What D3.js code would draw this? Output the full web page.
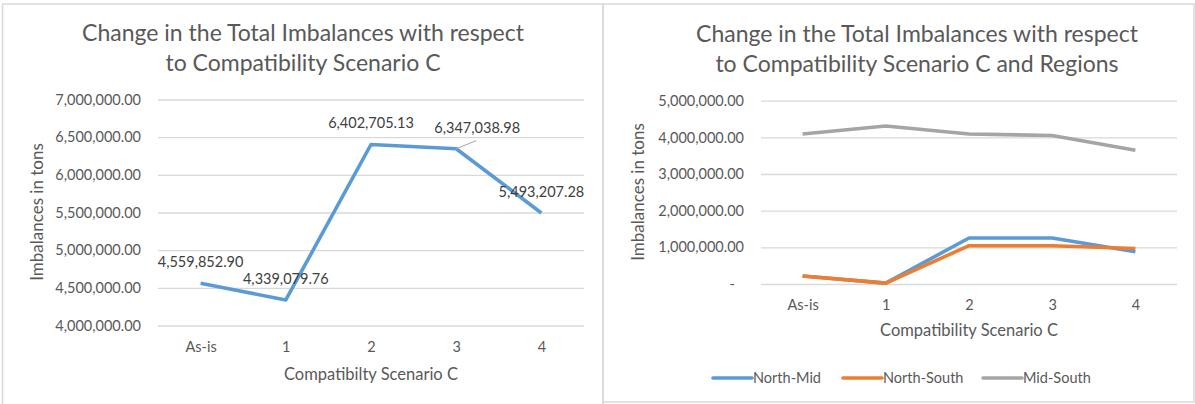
<!DOCTYPE html>
<html>
<head>
<meta charset="utf-8">
<script src="https://cdnjs.cloudflare.com/ajax/libs/d3/7.8.5/d3.min.js"></script>
<style>
  body { margin: 0; background: #fff; }
  svg { display: block; font-family: Lato, "Open Sans", sans-serif; }
  .tick text { fill: #595959; }
</style>
</head>
<body>
<svg></svg>
<script>
  // data
  let scenarios = ["As-is", "1", "2", "3", "4"];
  let totalImbalance = [4559852.90, 4339079.76, 6402705.13, 6347038.98, 5493207.28];
  let leftTicks = [4000000, 4500000, 5000000, 5500000, 6000000, 6500000, 7000000];

  let regionNames = ["North-Mid", "North-South", "Mid-South"];
  let northMid = [218000, 25000, 1255000, 1255000, 880000];
  let northSouth = [218000, 25000, 1045000, 1045000, 970000];
  let midSouth = [4090000, 4310000, 4090000, 4050000, 3650000];
  let rightTicks = [0, 1000000, 2000000, 3000000, 4000000, 5000000];

  let colors = {blue: "#5B9BD5", orange: "#ED7D31", gray: "#A5A5A5"};
  let textColor = "#595959";
  let fmt = d3.format(",.2f");

  let svg = d3.select("svg").attr("width", 1195).attr("height", 404);

  // panel frames
  svg.append("rect").attr("x", 2.5).attr("y", 4).attr("width", 600.5).attr("height", 420)
    .attr("fill", "none").attr("stroke", "#d9d9d9").attr("stroke-width", 1.5);
  svg.append("rect").attr("x", 603).attr("y", 4).attr("width", 591).attr("height", 398)
    .attr("fill", "none").attr("stroke", "#d9d9d9").attr("stroke-width", 1.5);

  function drawPanel(p) {
    let g = svg.append("g");
    let x = d3.scalePoint().domain(scenarios).range([p.left, p.right]).padding(0.5);
    let y = d3.scaleLinear().domain(d3.extent(p.ticks)).range([p.bottom, p.top]);

    // title
    p.title.forEach(function(t, i) {
      g.append("text").attr("x", p.titleX).attr("y", p.titleY + i * 29.5)
        .attr("text-anchor", "middle").attr("font-size", 23).attr("fill", textColor).text(t);
    });

    // y axis with gridlines
    let yAxis = g.append("g").attr("transform", "translate(" + p.left + ",0)")
      .call(d3.axisLeft(y).tickValues(p.ticks).tickSize(-(p.right - p.left)).tickPadding(17)
        .tickFormat(d => d === 0 ? "-" : fmt(d)));
    yAxis.select(".domain").remove();
    yAxis.selectAll(".tick line").attr("stroke", "#d9d9d9").attr("stroke-width", 1.3);
    yAxis.selectAll(".tick text").attr("font-size", 14.5).attr("font-family", "Lato")
      .filter(d => d === 0).attr("dx", -9);

    // x axis labels
    let xAxis = g.append("g").attr("transform", "translate(0," + p.bottom + ")")
      .call(d3.axisBottom(x).tickSize(0).tickPadding(p.xPad));
    xAxis.select(".domain").remove();
    xAxis.selectAll(".tick text").attr("font-size", 14.5).attr("font-family", "Lato");

    g.append("text").attr("x", (p.left + p.right) / 2).attr("y", p.xTitleY)
      .attr("text-anchor", "middle").attr("font-size", 16.5).attr("fill", textColor).text(p.xTitle);
    g.append("text").attr("transform", "translate(" + p.yTitleX + "," + p.yTitleY + ") rotate(-90)")
      .attr("text-anchor", "middle").attr("font-size", 17).attr("fill", textColor).text("Imbalances in tons");

    let line = d3.line().x((d, i) => x(scenarios[i])).y(d => y(d));
    p.series.forEach(function(s) {
      g.append("path").datum(s.values).attr("d", line).attr("fill", "none")
        .attr("stroke", s.color).attr("stroke-width", 3.6).attr("stroke-linejoin", "round");
    });
    return {g: g, x: x, y: y};
  }

  let left = drawPanel({
    left: 158, right: 584, top: 99.5, bottom: 325.5, ticks: leftTicks,
    title: ["Change in the Total Imbalances with respect", "to Compatibility Scenario C"],
    titleX: 303, titleY: 41, xPad: 16, xTitle: "Compatibilty Scenario C", xTitleY: 380,
    yTitleX: 43, yTitleY: 212,
    series: [{values: totalImbalance, color: colors.blue}]
  });

  // data labels on the left chart
  totalImbalance.forEach(function(v, i) {
    let px = left.x(scenarios[i]), py = left.y(v);
    let shift = i === 3 ? 21 : 0;
    if (shift) {
      left.g.append("line").attr("x1", px).attr("y1", py).attr("x2", px + 20).attr("y2", py - 8)
        .attr("stroke", "#a6a6a6").attr("stroke-width", 1);
    }
    left.g.append("text").attr("x", px + shift).attr("y", py - 16)
      .attr("text-anchor", "middle").attr("font-size", 14.5).attr("fill", "#404040").text(fmt(v));
  });

  let right = drawPanel({
    left: 761, right: 1177, top: 100.7, bottom: 284, ticks: rightTicks,
    title: ["Change in the Total Imbalances with respect", "to Compatibility Scenario C and Regions"],
    titleX: 917, titleY: 42, xPad: 16, xTitle: "Compatibility Scenario C", xTitleY: 336,
    yTitleX: 644, yTitleY: 192,
    series: [
      {values: northMid, color: colors.blue},
      {values: northSouth, color: colors.orange},
      {values: midSouth, color: colors.gray}
    ]
  });

  // legend
  let legendX = [713, 843, 983];
  let legendColors = [colors.blue, colors.orange, colors.gray];
  regionNames.forEach(function(name, i) {
    let lg = svg.append("g").attr("transform", "translate(" + legendX[i] + ",378)");
    lg.append("line").attr("x1", 0).attr("x2", 39).attr("stroke", legendColors[i])
      .attr("stroke-width", 3.6).attr("stroke-linecap", "round");
    lg.append("text").attr("x", 40).attr("dy", "0.35em").attr("font-size", 14.5)
      .attr("fill", textColor).text(name);
  });
</script>
</body>
</html>
